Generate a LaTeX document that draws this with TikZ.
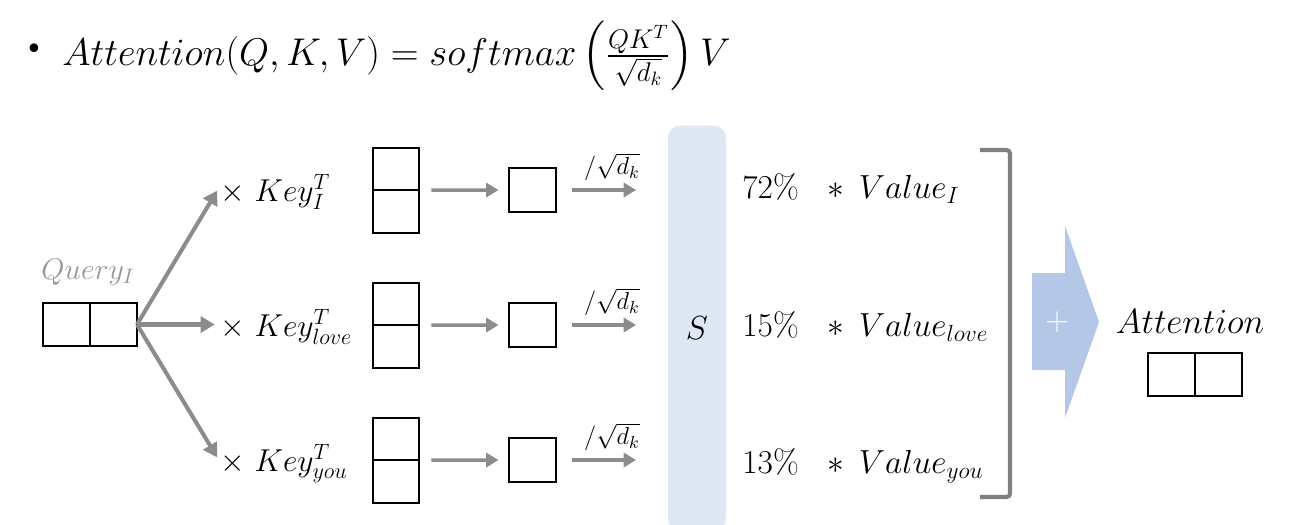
\documentclass[tikz,border=0pt]{standalone}
\usepackage{fix-cm}
\usepackage{amsmath,amssymb}
\usepackage{xcolor}
\usepackage{tikz}
\usetikzlibrary{arrows.meta, positioning}

\definecolor{arrowgray}{RGB}{140,140,140}
\definecolor{labelgray}{RGB}{150,150,150}
\definecolor{bracketgray}{RGB}{128,128,128}
\definecolor{scolfill}{RGB}{222,232,245}
\definecolor{sumblue}{RGB}{180,199,231}

\newcommand{\bigfont}{\fontsize{22}{26}\selectfont}
\newcommand{\rowfont}{\fontsize{19}{23}\selectfont}
\newcommand{\keyfont}{\fontsize{18}{22}\selectfont}
\newcommand{\smallfont}{\fontsize{14}{17}\selectfont}

\begin{document}
\begin{tikzpicture}[
    x=0.02cm, y=-0.02cm,
    cell/.style={rectangle, draw, line width=1pt, outer sep=0pt, inner sep=0pt, minimum width=0.94cm, minimum height=0.86cm},
    keycell/.style={cell, minimum width=0.92cm, minimum height=0.85cm},
    sqcell/.style={cell, minimum width=0.94cm, minimum height=0.88cm},
    keylabel/.style={anchor=base west, font=\keyfont, inner sep=0pt},
    vallabel/.style={anchor=base west, font=\rowfont, inner sep=0pt},
    arrow/.style={-{Triangle[length=7pt, width=8pt]}, line width=2pt, draw=arrowgray},
    fan/.style={-{Triangle[length=8pt, width=9pt]}, line width=2.3pt, draw=arrowgray},
  ]
    \useasboundingbox (0,0) rectangle (1290,524);

    % Formula
    \node[font=\bigfont] (bullet) at (34,51) {\textbullet};
    \node[anchor=west, font=\bigfont, inner sep=0pt] (formula) at (62,56)
      {$Attention(Q,K,V)=softmax\left(\frac{QK^{T}}{\sqrt{d_k}}\right)V$};

    % Query
    \node[font=\fontsize{17}{20}\selectfont, text=labelgray] (qlab) at (88,272) {$Query_{I}$};
    \node[cell] (q1) at (66.5,324.5) {};
    \node[cell, right=0pt of q1] (q2) {};

    % Key rows
    \node[keylabel] (key1) at (220,201) {$\times\ Key^{T}_{I}$};
    \node[keylabel] (key2) at (220,336) {$\times\ Key^{T}_{love}$};
    \node[keylabel] (key3) at (220,471) {$\times\ Key^{T}_{you}$};

    \node[keycell] (k1a) at (396,169) {};
    \node[keycell, below=0pt of k1a] (k1b) {};
    \node[keycell] (k2a) at (396,304) {};
    \node[keycell, below=0pt of k2a] (k2b) {};
    \node[keycell] (k3a) at (396,439) {};
    \node[keycell, below=0pt of k3a] (k3b) {};

    \node[sqcell] (sq1) at (532.5,190) {};
    \node[sqcell] (sq2) at (532.5,325) {};
    \node[sqcell] (sq3) at (532.5,460) {};

    % Softmax column
    \node[fill=scolfill, rounded corners=7pt, minimum width=1.16cm, minimum height=8.1cm, font=\rowfont] (S) at (697,328) {$S$};

    % Weighted values
    \node[vallabel] (v1) at (742,198) {72\% $\;\;\ast\;\, Value_{I}$};
    \node[vallabel] (v2) at (742,336) {15\% $\;\;\ast\;\, Value_{love}$};
    \node[vallabel] (v3) at (742,473) {13\% $\;\;\ast\;\, Value_{you}$};

    % Sum bracket
    \coordinate (brtop) at (1010,150);
    \coordinate (brbot) at (1010,497);
    \draw[bracketgray, line width=2.3pt, rounded corners=2pt] ([xshift=-0.6cm]brtop) -- (brtop) -- (brbot) -- ([xshift=-0.6cm]brbot);

    % Sum arrow
    \fill[sumblue] (1032,273) -- (1065,273) -- (1065,226) -- (1099,322) -- (1065,418) -- (1065,370) -- (1032,370) -- cycle;
    \node[text=white, font=\rowfont] (plus) at (1057,322) {$+$};

    % Result
    \node[font=\fontsize{20}{24}\selectfont] (attn) at (1190,321) {$Attention$};
    \node[cell] (a1) at (1171.5,374.5) {};
    \node[cell, right=0pt of a1] (a2) {};

    % Arrows
    \draw[fan, shorten >=3pt] (q2.east) -- (key1.west |- 0,186);
    \draw[fan, shorten >=3pt] (q2.east) -- (key2.west |- q2.east);
    \draw[fan, shorten >=3pt] (q2.east) -- (key3.west |- 0,462);

    \draw[arrow, shorten <=7pt, shorten >=6pt] (k1a.south east) -- (sq1.west);
    \draw[arrow, shorten <=7pt, shorten >=6pt] (k2a.south east) -- (sq2.west);
    \draw[arrow, shorten <=7pt, shorten >=6pt] (k3a.south east) -- (sq3.west);

    \draw[arrow, shorten <=9pt, shorten >=18pt] (sq1.east) -- (sq1.east -| S.west) node[midway, above=1pt, font=\smallfont] {$/\sqrt{d_k}$};
    \draw[arrow, shorten <=9pt, shorten >=18pt] (sq2.east) -- (sq2.east -| S.west) node[midway, above=1pt, font=\smallfont] {$/\sqrt{d_k}$};
    \draw[arrow, shorten <=9pt, shorten >=18pt] (sq3.east) -- (sq3.east -| S.west) node[midway, above=1pt, font=\smallfont] {$/\sqrt{d_k}$};

  \end{tikzpicture}
\end{document}
